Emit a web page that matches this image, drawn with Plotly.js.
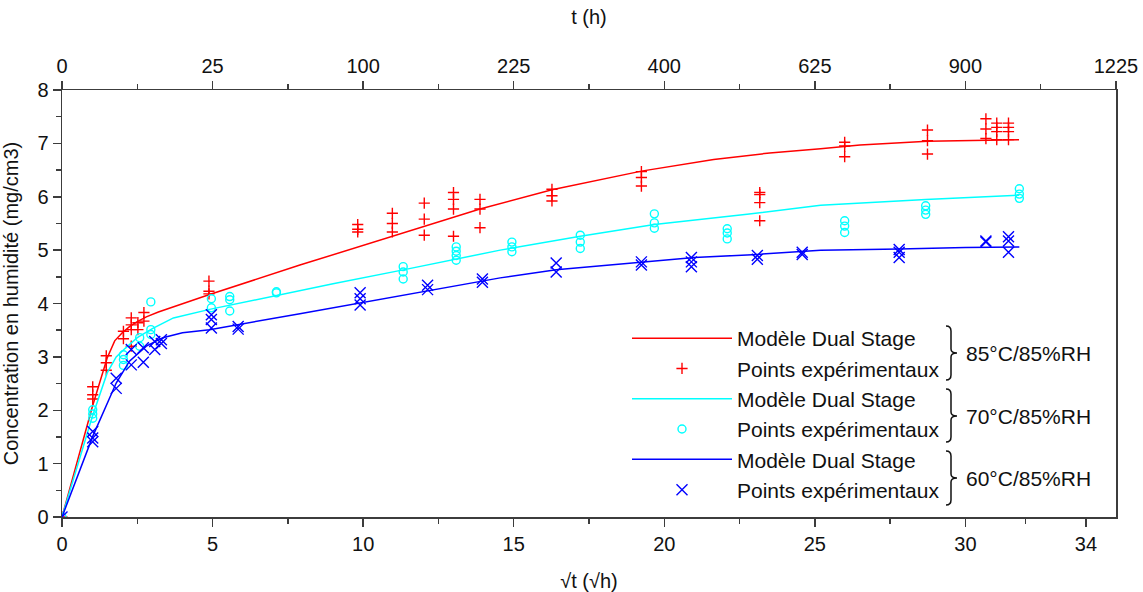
<!DOCTYPE html>
<html>
<head>
<meta charset="utf-8">
<script src="https://cdn.plot.ly/plotly-3.0.1.min.js"></script>
<style>html,body{margin:0;padding:0;background:#fff}#chart{width:1143px;height:592px}</style>
</head>
<body>
<div id="chart"></div>
<script>
// ---- data (sqrt(t) in sqrt(h), concentration in mg/cm3) ----
const bottomTickVals = [0, 5, 10, 15, 20, 25, 30, 34];
const bottomMinorVals = [2.5, 7.5, 12.5, 17.5, 22.5, 27.5, 32];
const topTickVals = [0, 5, 10, 15, 20, 25, 30, 35];
const topTickText = ['0', '25', '100', '225', '400', '625', '900', '1225'];
const topMinorVals = [2.5, 7.5, 12.5, 17.5, 22.5, 27.5, 32.5];

// 85°C/85%RH
const redModelX = [0, 1.0, 1.5, 1.75, 2.0, 2.25, 2.5, 2.8, 3.2, 3.6, 4.2, 4.9, 7.9, 10, 12, 13.88, 16.27, 19.24, 21.64, 23.5, 25.19, 26.5, 28.74, 30.5, 31.78];
const redModelY = [0, 2.05, 2.98, 3.3, 3.45, 3.57, 3.66, 3.75, 3.84, 3.92, 4.03, 4.17, 4.72, 5.09, 5.44, 5.77, 6.13, 6.48, 6.7, 6.82, 6.9, 6.97, 7.04, 7.06, 7.07];
const redPtsX = [0, 1.02, 1.02, 1.02, 1.47, 1.47, 1.47, 2.04, 2.04, 2.3, 2.3, 2.3, 2.3, 2.52, 2.52, 2.72, 2.72,
  4.88, 4.88, 4.88, 9.82, 9.82, 9.82, 10.97, 10.97, 10.97, 12.03, 12.03, 12.03, 13.0, 13.0, 13.0, 13.0,
  13.88, 13.88, 13.88, 16.27, 16.27, 16.27, 19.24, 19.24, 19.24, 23.17, 23.17, 23.17, 23.17,
  25.99, 25.99, 25.99, 28.74, 28.74, 28.74, 30.68, 30.68, 30.68, 31.04, 31.04, 31.04, 31.04, 31.43, 31.43, 31.43, 31.43];
const redPtsY = [0, 2.44, 2.29, 2.21, 3.02, 2.89, 2.75, 3.48, 3.34, 3.73, 3.6, 3.51, 3.2, 3.64, 3.51, 3.83, 3.67,
  4.42, 4.23, 4.18, 5.48, 5.39, 5.34, 5.69, 5.5, 5.34, 5.88, 5.58, 5.28, 6.08, 5.95, 5.77, 5.26,
  5.95, 5.77, 5.42, 6.14, 6.02, 5.92, 6.47, 6.36, 6.2, 6.08, 6.04, 5.89, 5.55,
  7.02, 6.95, 6.75, 7.25, 7.05, 6.8, 7.46, 7.27, 7.09, 7.38, 7.3, 7.22, 7.07, 7.38, 7.3, 7.22, 7.07];

// 70°C/85%RH
const cyanModelX = [0, 1.0, 1.5, 1.8, 2.1, 2.5, 3.0, 3.7, 4.9, 7.1, 9.0, 11.33, 13.88, 14.55, 17.21, 19.67, 22.75, 25.19, 28.68, 31.79];
const cyanModelY = [0, 1.87, 2.7, 3.0, 3.16, 3.36, 3.53, 3.73, 3.89, 4.15, 4.37, 4.63, 4.92, 5.0, 5.26, 5.48, 5.67, 5.84, 5.95, 6.03];
const cyanPtsX = [0, 1.02, 1.02, 1.02, 2.04, 2.04, 2.04, 2.58, 2.58, 2.95, 2.95, 2.95, 4.96, 4.96, 5.57, 5.57, 5.57,
  7.12, 7.12, 11.33, 11.33, 11.33, 13.09, 13.09, 13.09, 13.09, 14.94, 14.94, 14.94, 17.21, 17.21, 17.21,
  19.67, 19.67, 19.67, 22.09, 22.09, 22.09, 25.99, 25.99, 25.99, 28.68, 28.68, 28.68, 31.79, 31.79, 31.79];
const cyanPtsY = [0, 2.01, 1.93, 1.85, 3.04, 2.95, 2.84, 3.36, 3.2, 4.03, 3.51, 3.42, 4.09, 3.92, 4.13, 4.07, 3.86,
  4.22, 4.2, 4.69, 4.59, 4.46, 5.06, 4.98, 4.9, 4.81, 5.15, 5.06, 4.97, 5.28, 5.15, 5.03,
  5.68, 5.51, 5.41, 5.4, 5.32, 5.21, 5.55, 5.45, 5.33, 5.83, 5.75, 5.67, 6.15, 6.05, 5.97];

// 60°C/85%RH
const blueModelX = [0, 1.02, 1.8, 2.24, 2.8, 3.35, 4.0, 4.9, 7.9, 9.9, 12, 14.55, 16.41, 19.24, 21, 23.09, 25.19, 27.8, 30, 31.79];
const blueModelY = [0, 1.51, 2.51, 2.92, 3.2, 3.36, 3.45, 3.51, 3.81, 4.01, 4.22, 4.48, 4.63, 4.78, 4.86, 4.92, 5.0, 5.02, 5.05, 5.06];
const bluePtsX = [0, 1.02, 1.02, 1.02, 1.8, 1.8, 2.3, 2.3, 2.7, 2.7, 3.08, 3.08, 3.3, 3.3, 4.96, 4.96, 4.96, 5.85, 5.85,
  9.9, 9.9, 9.9, 12.14, 12.14, 13.96, 13.96, 16.41, 16.41, 19.24, 19.24, 20.9, 20.9, 20.9, 23.09, 23.09,
  24.58, 24.58, 27.8, 27.8, 27.8, 30.68, 30.68, 31.43, 31.43, 31.43];
const bluePtsY = [0, 1.6, 1.48, 1.41, 2.6, 2.41, 3.14, 2.85, 3.17, 2.9, 3.29, 3.14, 3.32, 3.25, 3.79, 3.7, 3.54, 3.57, 3.52,
  4.2, 4.09, 3.97, 4.34, 4.26, 4.46, 4.4, 4.76, 4.59, 4.78, 4.72, 4.86, 4.78, 4.69, 4.9, 4.83,
  4.96, 4.92, 5.01, 4.96, 4.86, 5.17, 5.15, 5.25, 5.17, 4.96];

const groupLabels = ['85°C/85%RH', '70°C/85%RH', '60°C/85%RH'];
const modelName = 'Modèle Dual Stage';
const pointsName = 'Points expérimentaux';

// ---- styling ----
const FONT = 'Liberation Sans, Arial, sans-serif';
const RED = '#ff0000', CYAN = '#00ffff', BLUE = '#0000ff';
const AX = '#3c3c3c';
const W = 1143, H = 592, ML = 62, MR = 27, MT = 90, MB = 75;
const PW = W - ML - MR, PH = H - MT - MB;
const px = v => (v - ML) / PW;
const py = v => 1 - (v - MT) / PH;

function lineTrace(x, y, color, g) {
  return {x, y, mode: 'lines', type: 'scatter', name: modelName, legendgroup: g,
    line: {color, width: 1.5}, hoverinfo: 'skip'};
}
function ptsTrace(x, y, color, symbol, size, g) {
  return {x, y, mode: 'markers', type: 'scatter', name: pointsName, legendgroup: g,
    marker: {symbol, size, color, line: {color, width: 1.4}}, hoverinfo: 'skip'};
}

const traces = [
  lineTrace(redModelX, redModelY, RED, 'a'),
  ptsTrace(redPtsX, redPtsY, RED, 'cross-thin', 8, 'b'),
  lineTrace(cyanModelX, cyanModelY, CYAN, 'c'),
  ptsTrace(cyanPtsX, cyanPtsY, CYAN, 'circle-open', 8, 'd'),
  lineTrace(blueModelX, blueModelY, BLUE, 'e'),
  ptsTrace(bluePtsX, bluePtsY, BLUE, 'x-thin', 11, 'f'),
  {x: [], y: [], xaxis: 'x2', type: 'scatter', mode: 'markers', showlegend: false, hoverinfo: 'skip'}
];

// braces for legend groups (pixel geometry converted to paper coords)
const braceDefs = [[326, 353, 380], [389, 416, 442], [451, 478, 505]];
const shapes = braceDefs.map(([t, m, b]) => {
  const x0 = 946, x1 = 951, x2 = 957;
  const P = (x, y) => px(x).toFixed(5) + ',' + py(y).toFixed(5);
  return {type: 'path', xref: 'paper', yref: 'paper',
    path: 'M' + P(x0, t) + ' Q' + P(x1, t) + ' ' + P(x1, t + 5) + ' L' + P(x1, m - 4) +
      ' Q' + P(x1, m) + ' ' + P(x2, m) + ' Q' + P(x1, m) + ' ' + P(x1, m + 4) +
      ' L' + P(x1, b - 5) + ' Q' + P(x1, b) + ' ' + P(x0, b),
    line: {color: '#111', width: 1.5}};
});
const annotations = braceDefs.map(([t, m, b], i) => ({
  xref: 'paper', yref: 'paper', x: px(964), y: py(m), xanchor: 'left', yanchor: 'middle',
  text: groupLabels[i], showarrow: false, font: {family: FONT, size: 21, color: '#111'}
}));

const tickFont = {family: FONT, size: 20, color: '#111'};
const layout = {
  width: W, height: H,
  margin: {l: ML, r: MR, t: MT, b: MB},
  paper_bgcolor: '#fff', plot_bgcolor: '#fff',
  font: {family: FONT, color: '#111'},
  showlegend: true,
  legend: {x: px(627), y: py(318), xanchor: 'left', yanchor: 'top', bgcolor: 'rgba(0,0,0,0)',
    font: {family: FONT, size: 21, color: '#111'}, tracegroupgap: 0, itemwidth: 100},
  xaxis: {range: [0, 35], tickmode: 'array', tickvals: bottomTickVals, ticks: 'outside', ticklen: 8,
    tickwidth: 1.5, tickcolor: AX, showline: true, linecolor: AX, linewidth: 1.5, showgrid: false,
    zeroline: false, tickfont: tickFont,
    minor: {tickmode: 'array', tickvals: bottomMinorVals, ticks: 'outside', ticklen: 5, tickwidth: 1.5, tickcolor: AX, showgrid: false},
    title: {text: '√t (√h)', font: {family: FONT, size: 20, color: '#111'}}},
  xaxis2: {overlaying: 'x', side: 'top', anchor: 'y', range: [0, 35], tickmode: 'array', tickvals: topTickVals,
    ticktext: topTickText, ticks: 'outside', ticklen: 8, tickwidth: 1.5, tickcolor: AX, showline: true,
    linecolor: AX, linewidth: 1.5, showgrid: false, zeroline: false, tickfont: tickFont,
    minor: {tickmode: 'array', tickvals: topMinorVals, ticks: 'outside', ticklen: 5, tickwidth: 1.5, tickcolor: AX, showgrid: false},
    title: {text: 't (h)', standoff: 24, font: {family: FONT, size: 20, color: '#111'}}},
  yaxis: {range: [0, 8], tickmode: 'linear', tick0: 0, dtick: 1, ticks: 'outside', ticklen: 8, tickwidth: 1.5,
    tickcolor: AX, showline: true, mirror: true, linecolor: AX, linewidth: 1.5, showgrid: false,
    zeroline: false, tickfont: tickFont,
    minor: {dtick: 0.5, ticks: 'outside', ticklen: 5, tickwidth: 1.5, tickcolor: AX, showgrid: false},
    title: {text: 'Concentration en humidité (mg/cm3)', font: {family: FONT, size: 20, color: '#111'}}},
  shapes, annotations
};

Plotly.newPlot('chart', traces, layout, {staticPlot: true, displayModeBar: false});
</script>
</body>
</html>
